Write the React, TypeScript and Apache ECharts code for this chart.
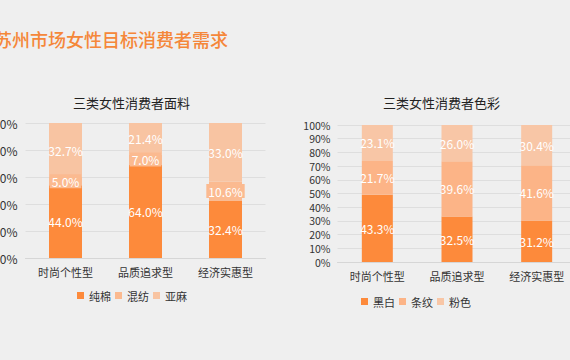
import React, { useEffect, useRef } from "react";
import * as echarts from "echarts";

const mainTitle = "苏州市场女性目标消费者需求";
const categories = ["时尚个性型", "品质追求型", "经济实惠型"];

const fabricTitle = "三类女性消费者面料";
const fabricNames = ["纯棉", "混纺", "亚麻"];
const cotton = [44.0, 64.0, 32.4];
const blend = [5.0, 7.0, 10.6];
const linen = [32.7, 21.4, 33.0];

const colorTitle = "三类女性消费者色彩";
const colorNames = ["黑白", "条纹", "粉色"];
const blackWhite = [43.3, 32.5, 31.2];
const stripes = [21.7, 39.6, 41.6];
const pink = [23.1, 26.0, 30.4];

const fabricColors = ["#FD8A3B", "#FBBA90", "#F8C4A2"];
const colorColors = ["#FD8A3B", "#FCB487", "#F8C6A6"];

const FONT = "'Noto Sans CJK SC', 'Noto Sans', sans-serif";

function buildSeries(
  groups: number[][],
  names: string[],
  colors: string[],
  axisIndex: number,
  stack: string,
  barWidth: number
) {
  const sums = categories.map((_, i) => groups.reduce((s, g) => s + g[i], 0));
  return groups.map((g, k) => ({
    name: names[k],
    type: "bar",
    stack,
    xAxisIndex: axisIndex,
    yAxisIndex: axisIndex,
    barWidth,
    itemStyle: { color: colors[k] },
    data: g.map((v, i) => ({ value: (v / sums[i]) * 100, raw: v })),
    label: {
      show: true,
      position: "inside",
      color: "#ffffff",
      fontFamily: FONT,
      fontSize: 12,
      formatter: (p: any) => p.data.raw.toFixed(1) + "%",
      ...(k === 1 && axisIndex === 0
        ? { backgroundColor: colors[k], padding: [1, 2] }
        : {}),
    },
  }));
}

export default function App() {
  const ref = useRef<HTMLDivElement>(null);
  useEffect(() => {
    if (!ref.current) return;
    const chart = echarts.init(ref.current, null, { renderer: "svg" });
    const axisLabel = { color: "#333", fontFamily: FONT, fontSize: 11 };
    const yAxisCommon = {
      type: "value",
      min: 0,
      max: 100,
      axisLine: { show: false },
      axisTick: { show: false },
      splitLine: { lineStyle: { color: "#dedede" } },
    };
    const xAxisCommon = {
      type: "category",
      data: categories,
      axisTick: { show: false },
      axisLine: { lineStyle: { color: "#d6d6d6" } },
    };
    chart.setOption({
      animation: false,
      backgroundColor: "#EFEFEF",
      graphic: [
        {
          type: "text",
          left: -6,
          top: 30,
          style: {
            text: mainTitle,
            fill: "#F5873A",
            font: `500 18px ${FONT}`,
          },
        },
        {
          type: "text",
          left: 73,
          top: 96,
          style: { text: fabricTitle, fill: "#222", font: `13px ${FONT}` },
        },
        {
          type: "text",
          left: 383,
          top: 96,
          style: { text: colorTitle, fill: "#222", font: `13px ${FONT}` },
        },
      ],
      legend: [
        {
          data: fabricNames,
          left: 72,
          top: 285,
          itemWidth: 7,
          itemHeight: 7,
          itemGap: 4,
          icon: "rect",
          textStyle: { color: "#333", fontFamily: FONT, fontSize: 11 },
        },
        {
          data: colorNames,
          left: 356,
          top: 291,
          itemWidth: 7,
          itemHeight: 7,
          itemGap: 4,
          icon: "rect",
          textStyle: { color: "#333", fontFamily: FONT, fontSize: 11 },
        },
      ],
      grid: [
        { left: 25.5, top: 123, width: 240, height: 135, containLabel: false, outerBoundsMode: "none" },
        { left: 337.5, top: 125, width: 239, height: 137, containLabel: false, outerBoundsMode: "none" },
      ],
      xAxis: [
        { ...xAxisCommon, gridIndex: 0, axisLabel: { ...axisLabel, margin: 8 } },
        { ...xAxisCommon, gridIndex: 1, axisLabel: { ...axisLabel, margin: 8 } },
      ],
      yAxis: [
        {
          ...yAxisCommon,
          gridIndex: 0,
          interval: 20,
          axisLabel: { ...axisLabel, fontSize: 12, formatter: "{value}%", margin: 8 },
        },
        {
          ...yAxisCommon,
          gridIndex: 1,
          interval: 10,
          axisLabel: { ...axisLabel, fontSize: 10.5, formatter: "{value}%", margin: 7 },
        },
      ],
      series: [
        ...buildSeries([cotton, blend, linen], fabricNames, fabricColors, 0, "fabric", 33),
        ...buildSeries([blackWhite, stripes, pink], colorNames, colorColors, 1, "color", 31),
      ],
    });
    return () => chart.dispose();
  }, []);
  return (
    <div
      ref={ref}
      style={{ position: "fixed", left: 0, top: 0, width: 570, height: 360 }}
    />
  );
}
